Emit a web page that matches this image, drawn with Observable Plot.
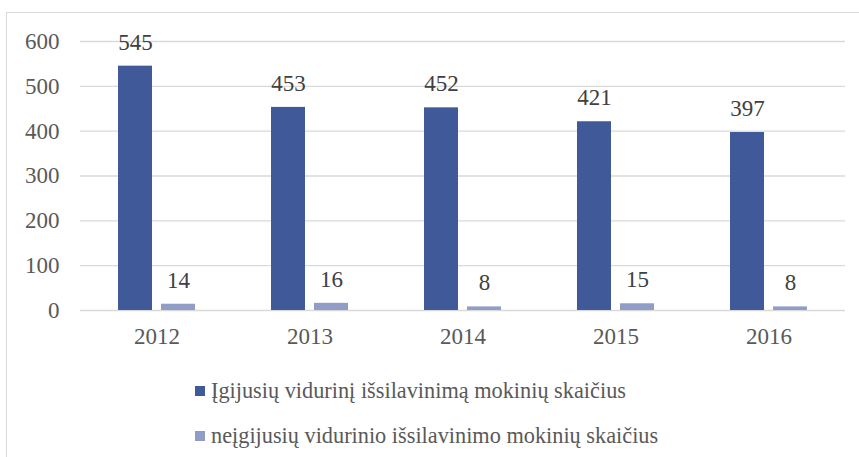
<!DOCTYPE html>
<html>
<head>
<meta charset="utf-8">
<script src="https://cdn.jsdelivr.net/npm/d3@7"></script>
<script src="https://cdn.jsdelivr.net/npm/@observablehq/plot@0.6"></script>
<style>
  html, body { margin: 0; padding: 0; background: #fff; width: 859px; height: 457px; overflow: hidden; }
  #frame { position: absolute; left: 6px; top: 12px; width: 853px; height: 445px;
           border-top: 1px solid #d9d9d9; border-left: 1px solid #d9d9d9; box-sizing: border-box; }
  #chart { position: absolute; left: 0; top: 0; }
  #chart svg { display: block; }
  #chart svg text { font-family: "Liberation Serif", serif; font-size: 23px; }
  .legend { position: absolute; left: 0; top: 0; font-family: "Liberation Serif", "Times New Roman", serif;
            font-size: 22.3px; color: #595959; }
  .legend .row { position: absolute; white-space: nowrap; display: flex; align-items: center; }
  .legend .sw { width: 10px; height: 10px; margin-right: 6px; display: inline-block; }
</style>
</head>
<body>
<div id="frame">
  <div id="chart"></div>
  <div class="legend" id="legend"></div>
</div>
<script>
const years = ["2012", "2013", "2014", "2015", "2016"];
const series = [
  "Įgijusių vidurinį išsilavinimą mokinių skaičius",
  "neįgijusių vidurinio išsilavinimo mokinių skaičius"
];
const acquired = [545, 453, 452, 421, 397];
const notAcquired = [14, 16, 8, 15, 8];
const yTicks = [0, 100, 200, 300, 400, 500, 600];
const colors = ["#405a99", "#8f9dc7"];

const data = [];
years.forEach((y, i) => {
  data.push({year: y, series: series[0], value: acquired[i]});
  data.push({year: y, series: series[1], value: notAcquired[i]});
});

const font = "Liberation Serif";

const chart = Plot.plot({
  width: 852,
  height: 345,
  marginLeft: 73,
  marginRight: 14,
  marginTop: 28,
  marginBottom: 48,
  style: { fontFamily: font, fontSize: "23px", color: "#595959", background: "transparent" },
  fx: { domain: years, paddingInner: 0, paddingOuter: 0, label: null },
  x: { domain: series, paddingInner: 0.209, paddingOuter: 0.883, axis: null },
  y: { domain: [0, 600], label: null },
  color: { domain: series, range: colors },
  marks: [
    Plot.gridY(yTicks, { stroke: "#d9d9d9", strokeOpacity: 1, strokeWidth: 1.3 }),
    Plot.axisY(yTicks, { tickSize: 0, tickPadding: 21, fill: "#595959", fontSize: 23,
                         fontFamily: font, label: null }),
    Plot.axisFx({ anchor: "bottom", tickSize: 0, tickPadding: 17, fill: "#595959", fontSize: 23,
                  fontFamily: font, label: null }),
    Plot.barY(data, { fx: "year", x: "series", y: "value", fill: "series" }),
    Plot.text(data, { fx: "year", x: "series", y: "value", text: d => String(d.value),
                      dy: -24, fill: "#404040", fontSize: 23, fontFamily: font })
  ]
});
document.getElementById("chart").appendChild(chart);

const legend = document.getElementById("legend");
const tops = [366, 411];
series.forEach((s, i) => {
  const row = document.createElement("div");
  row.className = "row";
  row.style.left = "188px";
  row.style.top = tops[i] + "px";
  row.style.height = "24px";
  const sw = document.createElement("span");
  sw.className = "sw";
  sw.style.background = colors[i];
  const t = document.createElement("span");
  t.textContent = s;
  row.appendChild(sw);
  row.appendChild(t);
  legend.appendChild(row);
});
</script>
</body>
</html>
